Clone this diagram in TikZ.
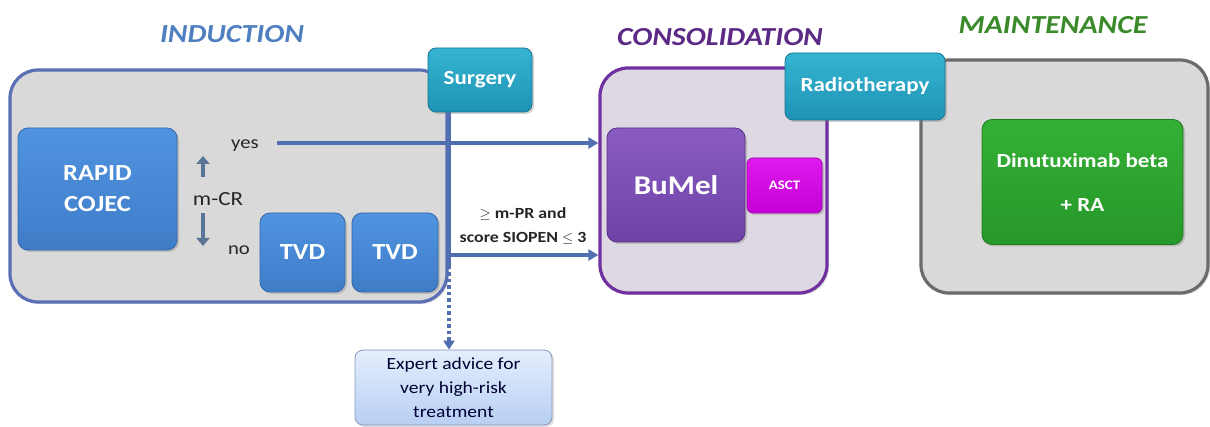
\documentclass[tikz,border=0pt]{standalone}
\usepackage{fontspec}
\setmainfont{Carlito}[FakeStretch=1.15]
\usetikzlibrary{arrows.meta,shadows}
\definecolor{indblue}{HTML}{5B6FB5}
\definecolor{indtitle}{HTML}{4F7FC0}
\definecolor{conspurple}{HTML}{7030A0}
\definecolor{constitle}{HTML}{5B2A86}
\definecolor{maintitle}{HTML}{3A8A2A}
\definecolor{maingray}{HTML}{6B6B6B}
\definecolor{phasefill}{HTML}{D9D9D9}
\definecolor{consfill}{HTML}{DDD8E2}
\definecolor{blueA}{HTML}{5094E0}
\definecolor{blueB}{HTML}{3F7CC8}
\definecolor{blueD}{HTML}{3467A8}
\definecolor{tealA}{HTML}{35B4D2}
\definecolor{tealB}{HTML}{1F93B4}
\definecolor{tealD}{HTML}{1A7490}
\definecolor{purA}{HTML}{8A5CC2}
\definecolor{purB}{HTML}{6E42A6}
\definecolor{purD}{HTML}{553285}
\definecolor{magA}{HTML}{E01AEE}
\definecolor{magB}{HTML}{C400D4}
\definecolor{grnA}{HTML}{34B034}
\definecolor{grnB}{HTML}{27982A}
\definecolor{grnD}{HTML}{1F7A22}
\definecolor{expA}{HTML}{E4EEFC}
\definecolor{expB}{HTML}{B7CFF3}
\definecolor{expD}{HTML}{8797BA}
\definecolor{arrcol}{HTML}{4F6FB0}
\definecolor{mcrarr}{HTML}{5A7596}
\begin{document}
\begin{tikzpicture}[x=1pt,y=-1pt,
  phase/.style={rounded corners=28pt, line width=3.2pt, fill=phasefill,
     drop shadow={opacity=0.25,shadow xshift=2pt,shadow yshift=-2pt}},
  title/.style={font=\fontsize{26}{30}\selectfont\bfseries\itshape, inner sep=0pt},
  bluebox/.style={rounded corners=10pt, draw=blueD, line width=0.8pt, top color=blueA, bottom color=blueB,
     text=white, font=\fontsize{23}{31}\selectfont\bfseries, align=center,
     drop shadow={opacity=0.35,shadow xshift=2pt,shadow yshift=-2pt}},
  tealbox/.style={rounded corners=8pt, draw=tealD, line width=0.8pt, top color=tealA, bottom color=tealB,
     text=white, font=\fontsize{20}{24}\selectfont\bfseries, align=center,
     drop shadow={opacity=0.35,shadow xshift=2pt,shadow yshift=-2pt}},
  lbl/.style={font=\fontsize{20}{24}\selectfont, inner sep=0pt, text=black!85},
  conn/.style={draw=arrcol, line width=3.6pt},
  arr/.style={conn, -{Triangle[length=10pt,width=11pt]}},
  mcr/.style={draw=mcrarr, line width=4.5pt, -{Triangle[length=8pt,width=13pt]}}
]
\useasboundingbox (0,0) rectangle (1210,427);
\fill[white] (0,0) rectangle (1210,427);

% titles
\node[title, text=indtitle] (tind) at (232,34) {INDUCTION};
\node[title, text=constitle] (tcons) at (720,37) {CONSOLIDATION};
\node[title, text=maintitle] (tmain) at (1053,25) {MAINTENANCE};

% phase boxes
\node[phase, draw=indblue, minimum width=437pt, minimum height=232pt] (ind) at (228.5,186) {};
\node[phase, draw=conspurple, fill=consfill, minimum width=227pt, minimum height=225pt] (cons) at (713.5,180.5) {};
\node[phase, draw=maingray, minimum width=287pt, minimum height=233pt] (main) at (1064.5,176.5) {};

% inner boxes
\node[bluebox, minimum width=159pt, minimum height=122pt] (rapid) at (97.5,189) {RAPID\\COJEC};
\node[bluebox, minimum width=85pt, minimum height=79pt] (tvda) at (302.5,252.5) {TVD};
\node[bluebox, minimum width=86pt, minimum height=79pt] (tvdb) at (395,252.5) {TVD};
\node[bluebox, draw=purD, top color=purA, bottom color=purB, font=\fontsize{27}{31}\selectfont\bfseries,
      minimum width=138pt, minimum height=114pt] (bumel) at (676,185) {BuMel};
\node[bluebox, draw=magB!80!black, top color=magA, bottom color=magB, font=\fontsize{13}{15}\selectfont\bfseries,
      rounded corners=6pt, minimum width=75pt, minimum height=55pt] (asct) at (784.5,185.5) {ASCT};
\node[bluebox, draw=grnD, top color=grnA, bottom color=grnB, font=\fontsize{20}{44}\selectfont\bfseries,
      minimum width=201pt, minimum height=125pt] (dinu) at (1082.5,182) {Dinutuximab beta\\+ RA};

% surgery / radiotherapy
\node[tealbox, minimum width=104pt, minimum height=64pt] (surg) at (480,80) {Surgery};
\node[tealbox, minimum width=160pt, minimum height=67pt] (radio) at (865,86.5) {Radiotherapy};

% labels
\node[lbl, font=\fontsize{18}{20}\selectfont] (yes) at (245,146) {yes};
\node[lbl] (mcrtxt) at (218,199) {m-CR};
\node[lbl, font=\fontsize{18}{20}\selectfont] (no) at (239,250) {no};
\node[font=\fontsize{15.5}{24}\selectfont\bfseries, align=center, inner sep=0pt, text=black!85] (crit) at (523,226)
   {$\geq$ m-PR and\\score SIOPEN $\leq$ 3};

% expert box
\node[rounded corners=8pt, draw=expD, line width=0.8pt, top color=expA, bottom color=expB,
      font=\fontsize{17}{24}\selectfont, text=black!80!blue, align=center,
      minimum width=197pt, minimum height=75pt,
      drop shadow={opacity=0.25,shadow xshift=2pt,shadow yshift=-2pt}] (expert) at (453.5,387.5)
   {Expert advice for\\very high-risk\\treatment};

% m-CR arrows
\coordinate (upfrom) at (203,177);
\coordinate (upto) at (203,156);
\coordinate (dnfrom) at (203,213);
\coordinate (dnto) at (203,246);
\draw[mcr] (upfrom) -- (upto);
\draw[mcr] (dnfrom) -- (dnto);

% connectors
\coordinate (yesstart) at (277,143);
\coordinate (vtop) at (449,112);
\coordinate (vbot) at (449,266);
\coordinate (crstart) at (449,255);
\draw[arr] (yesstart) -- (yesstart -| cons.west);
\draw[conn] (vtop) -- (vbot);
\draw[arr] (crstart) -- (crstart -| cons.west);
\draw[draw=arrcol, line width=3.6pt, dash pattern=on 3.5pt off 3pt, -{Triangle[length=9pt,width=11pt]}]
   (vbot) -- (vbot |- expert.north);
\end{tikzpicture}
\end{document}
